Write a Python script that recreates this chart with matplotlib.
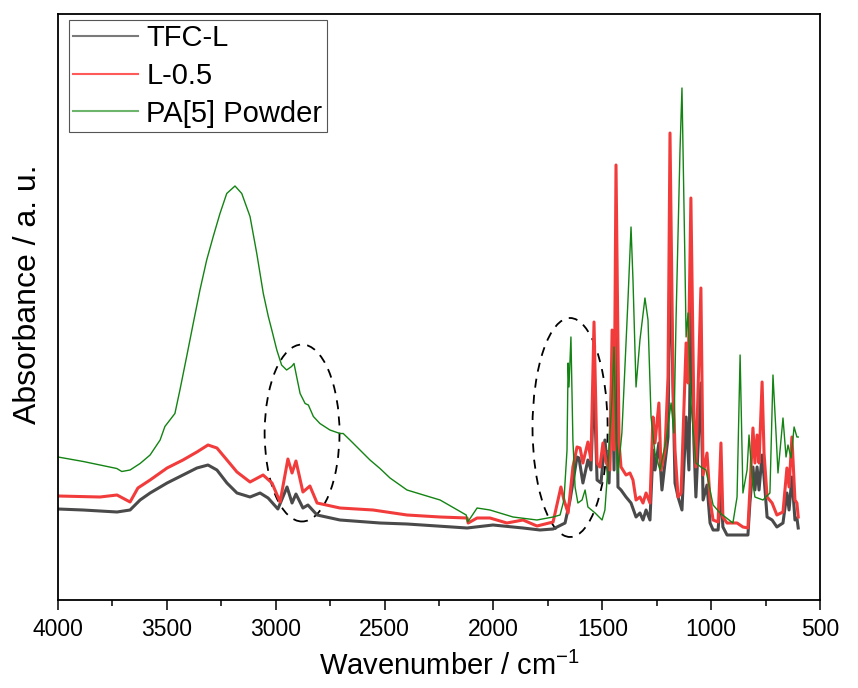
import numpy as np
import matplotlib
matplotlib.use("Agg")
from matplotlib import pyplot as plt
from matplotlib.patches import Ellipse
from matplotlib.lines import Line2D
from matplotlib.ticker import MultipleLocator

plt.rcParams['font.family'] = ['Liberation Sans', 'DejaVu Sans']
plt.rcParams['mathtext.default'] = 'regular'

# ---------------- data ----------------
# TFC-L
wn_tfc = [4000, 3885, 3729, 3669, 3623, 3577, 3499, 3426, 3362, 3311, 3270, 3224, 3178, 3118,
          3072, 3035, 2990, 2948, 2925, 2907, 2875, 2852, 2810, 2705, 2521, 2397, 2121, 2002,
          1864, 1786, 1726, 1671, 1648, 1616, 1607, 1589, 1566, 1552, 1538, 1524, 1506, 1488,
          1469, 1455, 1446, 1437, 1428, 1414, 1391, 1368, 1345, 1327, 1313, 1299, 1281, 1267,
          1258, 1240, 1226, 1212, 1198, 1189, 1166, 1152, 1134, 1115, 1102, 1093, 1079, 1070,
          1047, 1037, 1019, 1005, 991, 968, 955, 946, 927, 831, 822, 808, 799, 789, 780, 766,
          757, 743, 720, 698, 670, 652, 642, 629, 615, 606, 600]
ab_tfc = [0.182, 0.180, 0.176, 0.180, 0.200, 0.214, 0.234, 0.250, 0.264, 0.270, 0.260, 0.234, 0.214, 0.206,
          0.214, 0.204, 0.182, 0.226, 0.194, 0.212, 0.184, 0.190, 0.170, 0.160, 0.154, 0.152, 0.144, 0.150,
          0.144, 0.140, 0.142, 0.154, 0.200, 0.286, 0.284, 0.234, 0.280, 0.260, 0.440, 0.240, 0.234, 0.320,
          0.234, 0.474, 0.260, 0.620, 0.226, 0.220, 0.206, 0.194, 0.166, 0.174, 0.160, 0.180, 0.160, 0.300,
          0.260, 0.314, 0.220, 0.274, 0.326, 0.714, 0.234, 0.206, 0.180, 0.366, 0.260, 0.600, 0.314, 0.206,
          0.434, 0.200, 0.230, 0.154, 0.140, 0.140, 0.220, 0.146, 0.130, 0.130, 0.194, 0.266, 0.220, 0.266, 0.220, 0.290,
          0.246, 0.166, 0.160, 0.146, 0.154, 0.214, 0.180, 0.246, 0.160, 0.164, 0.144]

# L-0.5
wn_l05 = [4000, 3807, 3729, 3669, 3633, 3577, 3499, 3426, 3362, 3311, 3270, 3224, 3178, 3118,
          3058, 3017, 2980, 2944, 2925, 2907, 2875, 2843, 2810, 2705, 2553, 2397, 2245, 2121,
          2116, 2075, 2016, 1938, 1864, 1800, 1726, 1690, 1676, 1657, 1635, 1616, 1602, 1589,
          1566, 1552, 1538, 1524, 1511, 1497, 1483, 1465, 1455, 1446, 1437, 1423, 1414, 1391,
          1373, 1359, 1345, 1327, 1313, 1299, 1281, 1267, 1258, 1240, 1230, 1212, 1198, 1189,
          1175, 1166, 1152, 1138, 1115, 1106, 1093, 1079, 1070, 1047, 1037, 1019, 1005, 991,
          968, 955, 946, 927, 881, 854, 831, 822, 808, 799, 789, 780, 766, 757, 743, 720, 698,
          670, 652, 642, 629, 615, 606, 600]
ab_l05 = [0.208, 0.206, 0.210, 0.196, 0.224, 0.240, 0.264, 0.280, 0.296, 0.310, 0.304, 0.280, 0.256, 0.236,
          0.250, 0.234, 0.196, 0.282, 0.254, 0.278, 0.216, 0.228, 0.194, 0.184, 0.180, 0.170, 0.166, 0.164,
          0.154, 0.164, 0.164, 0.154, 0.160, 0.148, 0.156, 0.226, 0.200, 0.174, 0.266, 0.306, 0.304, 0.274,
          0.316, 0.280, 0.556, 0.274, 0.266, 0.314, 0.276, 0.260, 0.540, 0.300, 0.870, 0.314, 0.266, 0.250,
          0.254, 0.240, 0.200, 0.206, 0.194, 0.214, 0.194, 0.366, 0.314, 0.394, 0.260, 0.300, 0.446, 0.934,
          0.434, 0.300, 0.206, 0.214, 0.514, 0.434, 0.804, 0.366, 0.266, 0.624, 0.250, 0.294, 0.200, 0.160,
          0.156, 0.314, 0.166, 0.154, 0.154, 0.146, 0.144, 0.220, 0.344, 0.274, 0.330, 0.274, 0.436, 0.294, 0.206, 0.194, 0.170,
          0.176, 0.264, 0.226, 0.326, 0.200, 0.194, 0.166]

# PA[5] powder
wn_pa = [4000, 3884, 3807, 3730, 3707, 3669, 3623, 3577, 3531, 3509, 3463, 3440, 3409, 3379,
         3348, 3317, 3287, 3256, 3225, 3187, 3156, 3118, 3087, 3057, 3034, 3018, 2995, 2973,
         2950, 2927, 2916, 2904, 2888, 2865, 2850, 2827, 2797, 2751, 2705, 2690, 2659, 2613,
         2567, 2521, 2475, 2397, 2291, 2245, 2125, 2118, 2075, 2016, 1910, 1800, 1726, 1694,
         1676, 1662, 1657, 1653, 1644, 1635, 1625, 1612, 1593, 1579, 1566, 1533, 1501, 1488,
         1474, 1455, 1446, 1437, 1428, 1410, 1396, 1382, 1368, 1359, 1345, 1327, 1304, 1290,
         1276, 1258, 1235, 1207, 1184, 1171, 1161, 1143, 1134, 1120, 1115, 1106, 1093, 1070,
         1047, 1024, 991, 959, 900, 881, 867, 854, 835, 826, 812, 799, 762, 730, 716, 702,
         693, 670, 656, 647, 633, 619, 606, 600]
ab_pa = [0.286, 0.277, 0.270, 0.263, 0.257, 0.260, 0.273, 0.290, 0.320, 0.347, 0.373, 0.420, 0.487, 0.553,
         0.620, 0.680, 0.727, 0.773, 0.813, 0.828, 0.813, 0.767, 0.693, 0.613, 0.567, 0.540, 0.500, 0.470,
         0.460, 0.467, 0.473, 0.447, 0.413, 0.393, 0.390, 0.367, 0.353, 0.340, 0.333, 0.333, 0.320, 0.300,
         0.280, 0.263, 0.244, 0.220, 0.206, 0.200, 0.170, 0.156, 0.184, 0.180, 0.166, 0.160, 0.166, 0.170,
         0.200, 0.300, 0.474, 0.426, 0.526, 0.320, 0.226, 0.194, 0.200, 0.220, 0.186, 0.174, 0.160, 0.180,
         0.266, 0.406, 0.506, 0.320, 0.254, 0.334, 0.466, 0.600, 0.746, 0.640, 0.426, 0.520, 0.604, 0.560,
         0.366, 0.294, 0.260, 0.320, 0.394, 0.334, 0.566, 0.900, 1.024, 0.666, 0.526, 0.574, 0.394, 0.274,
         0.266, 0.260, 0.190, 0.174, 0.154, 0.206, 0.490, 0.214, 0.260, 0.330, 0.246, 0.206, 0.200, 0.214, 0.450, 0.334,
         0.254, 0.364, 0.286, 0.310, 0.284, 0.346, 0.326, 0.326]

# dashed ellipses (centre wavenumber, centre absorbance, width, height)
ell_left = (2879, 0.334, 344, 0.354)
ell_right = (1648, 0.345, 345, 0.438)

# ---------------- figure ----------------
fig = plt.figure(figsize=(8.58, 6.88), dpi=100)
ax = fig.add_axes([58/858, 88/688, 762/858, 586/688])

ax.plot(wn_tfc, ab_tfc, color='#4a4a4a', lw=2.2, solid_joinstyle='round')
ax.plot(wn_l05, ab_l05, color='#f23c3c', lw=2.2, solid_joinstyle='round')
ax.plot(wn_pa, ab_pa, color='#138313', lw=1.0)

for cx, cy, w, h in (ell_left, ell_right):
    ax.add_patch(Ellipse((cx, cy), w, h, fill=False, ls=(0, (5, 4)), lw=1.3, ec='black'))

ax.set_xlim(4000, 500)
ax.set_ylim(0, 1.172)
ax.xaxis.set_major_locator(MultipleLocator(500))
ax.xaxis.set_minor_locator(MultipleLocator(250))
ax.tick_params(axis='x', which='major', direction='out', length=7, width=1.1, labelsize=16.5, pad=6)
ax.tick_params(axis='x', which='minor', direction='out', length=4, width=1.1)
ax.tick_params(axis='y', left=False, labelleft=False)
for s in ax.spines.values():
    s.set_linewidth(1.3)

ax.set_xlabel('Wavenumber / cm$^{-1}$', fontsize=21, labelpad=8)
ax.set_ylabel('Absorbance / a. u.', fontsize=23)
ax.xaxis.set_label_coords(0.513, -0.088)
ax.yaxis.set_label_coords(-0.020, 0.522)

handles = [Line2D([], [], color='#7a7a7a', lw=1.5),
           Line2D([], [], color='#ff5a5a', lw=1.5),
           Line2D([], [], color='#6db46d', lw=1.5)]
leg = ax.legend(handles, ['TFC-L', 'L-0.5', 'PA[5] Powder'], loc='upper left',
                bbox_to_anchor=(11/762, 1 - 6/586), borderaxespad=0, fontsize=21,
                handlelength=2.2, handletextpad=0.3, labelspacing=0.33, borderpad=0.15,
                frameon=True, fancybox=False, edgecolor='#555555', framealpha=1)
leg.get_frame().set_linewidth(0.8)

fig.savefig('out.png', dpi=100)
